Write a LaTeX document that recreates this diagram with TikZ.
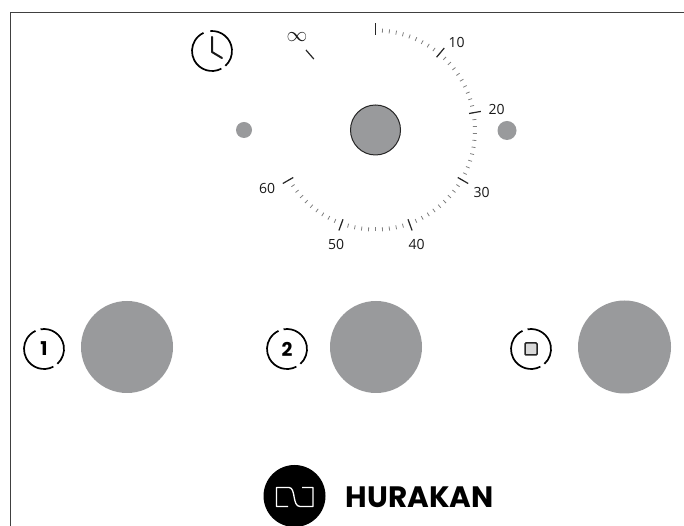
\documentclass[tikz,border=0pt]{standalone}
\usepackage{fontspec}
\setmainfont{Open Sans}
\newfontfamily\logofont{Poppins}
\begin{document}
\begin{tikzpicture}[x=1pt,y=1pt,
  frameline/.style={draw=black!75,line width=1.9pt},
  knob/.style={circle,fill=knobgray,inner sep=0pt,minimum size=#1},
  ringarc/.style={draw=black,line width=1.7pt},
  iconmark/.style={draw=black!90,line width=2pt,line cap=round,line join=round},
  minortick/.style={draw=black!50,line width=0.8pt},
  majortick/.style={draw=black!85,line width=1.2pt},
  dialnum/.style={font=\fontsize{14}{14}\selectfont,text=black!90,inner sep=0pt},
  ]
\definecolor{knobgray}{HTML}{999A9C}
\useasboundingbox (0,0) rectangle (684,526);
\fill[white] (0,0) rectangle (684,526);
% frame
\coordinate (fa) at (10.5,0);
\coordinate (fb) at (10.5,513.5);
\coordinate (fc) at (684,513.5);
\draw[frameline] (fa) -- (fb) -- (fc);
% dial
\node[circle,fill=knobgray,draw=black!85,line width=1pt,inner sep=0pt,minimum size=50pt] (hub) at (375.5,396) {};
\node[knob=16pt] (dotl) at (244,396) {};
\node[knob=19pt] (dotr) at (507,395.5) {};
\foreach \m in {0,...,60}{
  \pgfmathsetmacro{\a}{90-4*\m}
  \path (hub.center) ++(\a:97.5) coordinate (ta) ++(\a:4) coordinate (tb);
  \draw[minortick] (ta) -- (tb);
}
\foreach \m in {0,10,...,60}{
  \pgfmathsetmacro{\a}{90-4*\m}
  \path (hub.center) ++(\a:95) coordinate (ta) ++(\a:12) coordinate (tb);
  \draw[majortick] (ta) -- (tb);
}
\path (hub.center) ++(131:94) coordinate (ta) ++(131:12) coordinate (tb);
\draw[majortick] (ta) -- (tb);
\node[dialnum] (n10) at (456.5,483) {10};
\node[dialnum] (n20) at (496.5,416.5) {20};
\node[dialnum] (n30) at (481.5,333.5) {30};
\node[dialnum] (n40) at (416.5,281.5) {40};
\node[dialnum] (n50) at (336,281.5) {50};
\node[dialnum] (n60) at (267,337) {60};
\node[dialnum,font=\fontsize{20}{20}\selectfont] (ninf) at (297,488.5) {$\infty$};
% clock icon
\coordinate (ck) at (212,475);
\draw[ringarc] (ck) ++(95:20) arc (95:-48:20);
\draw[ringarc] (ck) ++(-62:20) arc (-62:-245:20) ;
\draw[iconmark] (212,489) -- (212,474) -- (222,468);
% numbered rings
\node[knob=92pt] (k1) at (127,179) {};
\node[knob=92pt] (k2) at (376,179) {};
\node[knob=93pt] (k3) at (624.5,179) {};
\coordinate (r1) at (44,177);
\coordinate (r2) at (287,177);
\coordinate (r3) at (531,177);
\foreach \c in {r1,r2,r3}{
  \draw[ringarc] (\c) ++(100:20) arc (100:-48:20);
  \draw[ringarc] (\c) ++(-62:20) arc (-62:-245:20);
}
\node[font=\logofont\bfseries\fontsize{19}{19}\selectfont,inner sep=0pt] (l1) at (44,177) {1};
\node[font=\logofont\bfseries\fontsize{19}{19}\selectfont,inner sep=0pt] (l2) at (287,177) {2};
\node[draw=black!85,fill=black!15,line width=1.5pt,minimum size=12pt,inner sep=0pt,rounded corners=1pt] (stop) at (531,177) {};
% logo
\node[circle,fill=black,inner sep=0pt,minimum size=62pt] (logo) at (294.5,30) {};
\coordinate (sa) at (288,19.5);
\coordinate (sb) at (276.5,21.5);
\coordinate (sc) at (276.5,36.5);
\coordinate (sd) at (289,38.5);
\coordinate (se) at (300,19.5);
\coordinate (sf) at (313,21.5);
\coordinate (sg) at (313,36.5);
\coordinate (sh) at (302,38.5);
\draw[white,line width=1.3pt,line join=round]
  (sa) -- (sb |- sa) -- (sb) -- (sc) -- (sc |- sd) -- (sd)
  .. controls (296,38.5) and (292,19.5) .. (se)
  -- (sf |- se) -- (sf) -- (sg) -- (sg |- sh) -- (sh);
\node[font=\logofont\bfseries\fontsize{29.5}{29.5}\selectfont,anchor=west,inner sep=0pt] (brand) at (345.5,29) {HURAKAN};
\end{tikzpicture}
\end{document}
